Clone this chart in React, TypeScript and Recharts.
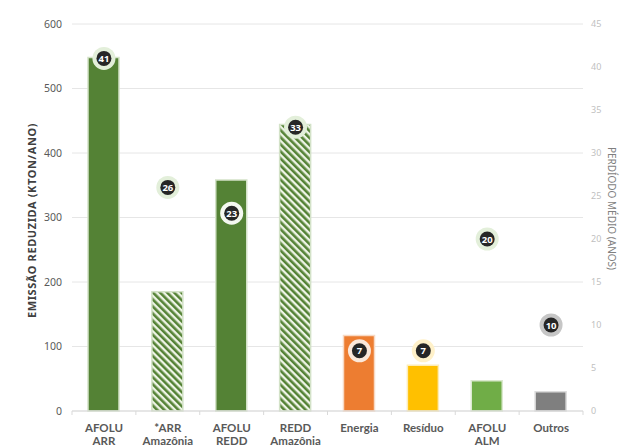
import { ComposedChart, Bar, Line, XAxis, YAxis, CartesianGrid, Cell } from "recharts";

const categories = [
  "AFOLU\nARR",
  "*ARR\nAmazônia",
  "AFOLU\nREDD",
  "REDD\nAmazônia",
  "Energia",
  "Resíduo",
  "AFOLU\nALM",
  "Outros",
];
const emissions = [548, 185, 358, 444, 117, 71, 47, 30];
const periods = [41, 26, 23, 33, 7, 7, 20, 10];
const leftTicks = [0, 100, 200, 300, 400, 500, 600];
const rightTicks = [0, 5, 10, 15, 20, 25, 30, 35, 40, 45];

const barFills = [
  "#548235",
  "url(#hatch)",
  "#548235",
  "url(#hatch)",
  "#ED7D31",
  "#FFC000",
  "#70AD47",
  "#7F7F7F",
];
const barStrokes = ["#d3e2c8", "#d3e2c8", "#d3e2c8", "#d3e2c8", "#f8d9c4", "#fcecb8", "#dbe9cf", "#dcdcdc"];
const haloColors = ["#e3efda", "#e3efda", "#f4f8f0", "#e3efda", "#fbe8da", "#fff1c9", "#e3efda", "#c6c6c6"];

const data = categories.map((name, i) => ({
  name,
  emission: emissions[i],
  period: periods[i],
}));

const font = "'Noto Sans', 'DejaVu Sans', sans-serif";
const tickFont = "Lato, 'Noto Sans', sans-serif";

const XTick = (props: any) => {
  const { x, y, payload } = props;
  const lines = String(payload.value).split("\n");
  const off = payload.offset || 0;
  return (
    <g>
      <line x1={x - off} y1={y - 8} x2={x - off} y2={y - 4} stroke="#d9d9d9" />
      {payload.index === categories.length - 1 && (
        <line x1={x + off} y1={y - 8} x2={x + off} y2={y - 4} stroke="#d9d9d9" />
      )}
      {lines.map((l, i) => (
        <text
          key={i}
          x={x}
          y={y + 12.5 + i * 13.8}
          textAnchor="middle"
          fill="#595959"
          fontSize={11.5}
          fontWeight={700}
          fontFamily={tickFont}
        >
          {l}
        </text>
      ))}
    </g>
  );
};

const PeriodDot = (props: any) => {
  const { cx, cy, index, value } = props;
  if (cx == null || cy == null) return null;
  return (
    <g key={`dot-${index}`}>
      <circle cx={cx} cy={cy} r={11.5} fill={haloColors[index]} />
      <circle cx={cx} cy={cy} r={7.5} fill="#262626" />
      <text x={cx} y={cy + 3.5} textAnchor="middle" fill="#fff" fontSize={9.5} fontWeight={700} fontFamily={font}>
        {value}
      </text>
    </g>
  );
};

export default function App() {
  return (
    <div style={{ position: "absolute", left: 0, top: 0, width: 621, height: 448, background: "#fff" }}>
      <ComposedChart width={621} height={448} data={data} margin={{ top: 24, right: 8, bottom: 0, left: 32 }}>
        <defs>
          <pattern id="hatch" patternUnits="userSpaceOnUse" width={5} height={5} patternTransform="rotate(-45)">
            <rect width={5} height={5} fill="#eef4e6" />
            <rect width={2.6} height={5} fill="#548235" />
          </pattern>
        </defs>
        <CartesianGrid vertical={false} stroke="#e6e6e6" yAxisId="left" />
        <XAxis
          dataKey="name"
          interval={0}
          height={37}
          axisLine={{ stroke: "#d9d9d9" }}
          tickLine={false}
          tick={<XTick />}
        />
        <YAxis
          yAxisId="left"
          domain={[0, 600]}
          ticks={leftTicks}
          width={40}
          axisLine={false}
          tickLine={false}
          tickMargin={4}
          tick={{ fill: "#595959", fontSize: 10.5, fontFamily: font }}
          label={{
            value: "EMISSÃO REDUZIDA  (KTON/ANO)",
            angle: -90,
            position: "center",
            dx: -20,
            dy: 3,
            style: {
              fill: "#404040",
              fontSize: 11,
              fontWeight: 700,
              letterSpacing: 0.6,
              fontFamily: font,
              textAnchor: "middle",
            },
          }}
        />
        <YAxis
          yAxisId="right"
          orientation="right"
          domain={[0, 45]}
          ticks={rightTicks}
          width={30}
          axisLine={false}
          tickLine={false}
          tick={{ fill: "#bfbfbf", fontSize: 9, fontFamily: font }}
          label={{
            value: "PERDÍODO MÉDIO (ANOS)",
            angle: 90,
            position: "center",
            dx: 14,
            dy: -9,
            style: { fill: "#7f7f7f", fontSize: 10, fontFamily: font, textAnchor: "middle" },
          }}
        />
        <Bar yAxisId="left" dataKey="emission" barSize={31} isAnimationActive={false}>
          {data.map((_, i) => (
            <Cell key={`cell-${i}`} fill={barFills[i]} stroke={barStrokes[i]} strokeWidth={1.5} />
          ))}
        </Bar>
        <Line
          yAxisId="right"
          dataKey="period"
          stroke="none"
          strokeWidth={0}
          dot={<PeriodDot />}
          activeDot={false}
          isAnimationActive={false}
        />
      </ComposedChart>
    </div>
  );
}
